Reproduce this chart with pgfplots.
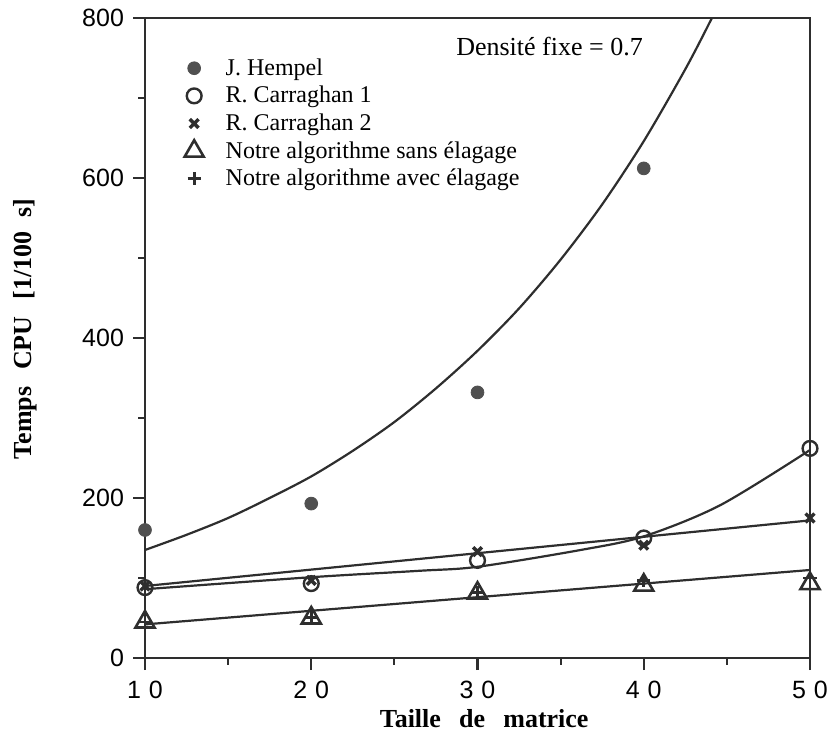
\documentclass[border=0pt]{standalone}
\usepackage{fontspec}
\setmainfont{Liberation Serif}
\setsansfont{Liberation Sans}
\newfontfamily\xtickfont[LetterSpace=32]{Liberation Sans}
\usepackage{pgfplots}
\pgfplotsset{compat=1.18}
\definecolor{ink}{HTML}{2E2E2E}
\definecolor{dot}{HTML}{505050}

\begin{document}
\begin{tikzpicture}
\begin{axis}[
  width=332.5pt, height=320pt, scale only axis,
  xmin=10, xmax=50, ymin=0, ymax=800,
  xtick={10,20,30,40,50}, ytick={0,200,400,600,800},
  minor xtick={15,25,35,45}, minor ytick={100,300,500,700},
  tick pos=left, tick align=outside,
  major tick length=6pt, minor tick length=3.5pt,
  axis line style={ink, line width=1.1pt},
  every tick/.style={ink, line width=1.1pt},
  /pgf/number format/assume math mode=true,
  xticklabel style={font=\xtickfont\fontsize{12.5}{14}\selectfont, yshift=-2pt},
  yticklabel style={font=\sffamily\fontsize{12.5}{14}\selectfont, xshift=-1pt},
  xlabel={Taille\hspace{0.45em} de\hspace{0.45em} matrice},
  ylabel={Temps\hspace{0.4em} CPU\hspace{0.4em} [1/100\hspace{0.3em} s]},
  xlabel style={font=\bfseries\fontsize{13}{15}\selectfont, at={(axis description cs:0.51,-0.094)}, anchor=center},
  ylabel style={font=\bfseries\fontsize{13}{15}\selectfont, at={(axis description cs:-0.18,0.514)}, anchor=center},
  legend style={draw=none, fill=none, at={(axis cs:12,760)}, anchor=north west,
    font=\fontsize{12}{13}\selectfont, row sep=0pt, cells={anchor=west}},
]
% courbes d'ajustement
\addplot[ink, line width=1.1pt, smooth, forget plot] coordinates {
  (10,135) (12.5,154) (15,175) (17.5,200) (20,227) (22.5,259) (25,295)
  (27.5,337) (30,384) (32.5,437) (35,498) (37.5,567) (40,646) (42.5,736)
  (44.1,800) (45,839)
};
\addplot[ink, line width=1.1pt, smooth, tension=0.5, forget plot] coordinates {
  (10,86) (20,101) (26.5,109) (30,114) (36.2,135) (40,152) (44.6,191) (50,260)
};
\addplot[ink, line width=1.1pt, forget plot] coordinates {(10,90) (50,172)};
\addplot[ink, line width=1.1pt, forget plot] coordinates {(10,42) (50,110)};

% mesures
\addplot[only marks, mark=*, mark size=3.2pt, draw=dot, fill=dot] coordinates {
  (10,160) (20,193) (30,332) (40,612)
};
\addlegendentry{\hspace{9pt}J. Hempel}
\addplot[only marks, mark=o, mark size=3.7pt, line width=1.2pt, draw=ink,
  mark options={fill=white}] coordinates {
  (10,88) (20,93) (30,122) (40,150) (50,262)
};
\addlegendentry{\hspace{9pt}R. Carraghan 1}
\addplot[only marks, mark=x, mark size=3.1pt, line width=1.7pt, draw=ink] coordinates {
  (10,90) (20,97) (30,133) (40,141) (50,175)
};
\addlegendentry{\hspace{9pt}R. Carraghan 2}
\addplot[only marks, mark=triangle, mark size=5.5pt, line width=1.3pt, draw=ink,
  mark options={fill=white}] coordinates {
  (10,45) (20,50) (30,81) (40,91) (50,93)
};
\addlegendentry{\hspace{9pt}Notre algorithme sans élagage}
\addplot[only marks, mark=+, mark size=3.3pt, line width=1.4pt, draw=ink] coordinates {
  (10,45) (20,51) (30,82) (40,97) (50,100)
};
\addlegendentry{\hspace{9pt}Notre algorithme avec élagage}

\node[anchor=west, font=\fontsize{13}{15}\selectfont] at (axis cs:28.3,764) {Densité fixe = 0.7};
\end{axis}
\pgfresetboundingbox
\path[use as bounding box] ([shift={(-72.5pt,-42pt)}]current axis.south west)
  rectangle ([shift={(9pt,9pt)}]current axis.north east);
\end{tikzpicture}
\end{document}
